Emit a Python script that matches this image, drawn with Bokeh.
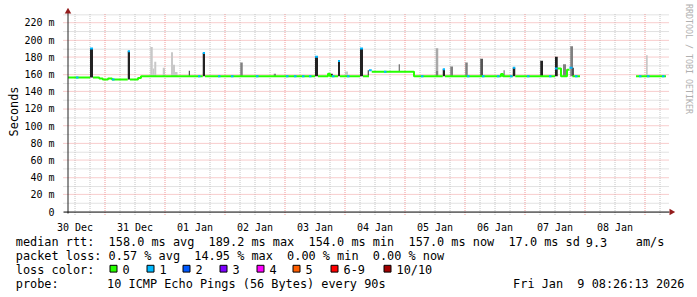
import math
from bokeh.plotting import figure
from bokeh.layouts import column
from bokeh.models import Range1d, FixedTicker, LinearAxis
from bokeh.core.properties import value
from bokeh.embed import file_html
from bokeh.resources import INLINE

# ---------------- data (time = hours since 30 Dec 00:00) ----------------
day_names = ["30 Dec", "31 Dec", "01 Jan", "02 Jan", "03 Jan",
             "04 Jan", "05 Jan", "06 Jan", "07 Jan", "08 Jan"]
y_tick_values = [0, 20, 40, 60, 80, 100, 120, 140, 160, 180, 200, 220]
y_tick_labels = ["0", "20 m", "40 m", "60 m", "80 m", "100 m", "120 m",
                 "140 m", "160 m", "180 m", "200 m", "220 m"]

t_first = 9.2
t_last = 248.4

# median rtt runs (ms): start hour, value (None = no data), lost pings
med_start = [9.2, 18.0, 19.2, 21.7, 23.1, 25.2, 26.8, 33.1, 34.0, 37.2, 38.4,
             63.1, 64.0, 108.0, 109.2, 113.2, 114.0, 117.2, 118.0, 126.0, 127.2,
             129.6, 130.7, 147.6, 159.1, 160.0, 182.4, 183.2, 187.1, 188.1,
             204.0, 205.1, 206.4, 208.8, 209.8, 211.0, 214.0, 236.4]
med_value = [156.7, 190.3, 156.7, 155.5, 154.1, 155.3, 154.1, 187.0, 154.1, 155.9, 157.9,
             185.0, 157.9, 180.7, 157.9, 161.0, 157.9, 175.8, 157.9, 190.3, 157.9,
             165.0, 163.2, 157.9, 166.3, 157.9, 160.5, 157.9, 167.8, 157.9,
             167.0, 167.0, 157.9, 165.5, 168.0, 157.9, None, 157.9]
med_loss = [0, 1, 0, 0, 0, 0, 0, 1, 0, 0, 0,
            1, 0, 1, 0, 0, 0, 1, 0, 1, 0,
            1, 0, 0, 1, 0, 0, 0, 1, 0,
            1, 0, 0, 0, 1, 0, 0, 0]

# single steps with packet loss on the median line
loss_bit_t = [12.4, 26.8, 61.2, 69.2, 74.4, 84.4, 96.4, 99.6, 102.8, 105.6,
              114.8, 120.8, 135.6, 150.4, 168.8, 174.8, 180.8, 186.0, 192.8,
              201.6, 212.0, 237.6, 240.8, 246.8]
loss_bit_n = [1] * 24

# smoke (spread of the pings): start hour, width (h), low, high (ms), darkness 0..4
smoke_t = [18.0, 33.1, 42.1, 43.1, 43.7, 47.1, 50.4, 51.2, 52.0, 57.5, 63.1,
           78.1, 91.5, 108.0, 114.4, 117.2, 120.0, 126.0, 129.1, 141.5, 147.4,
           156.3, 156.3, 159.1, 162.1, 168.1, 174.1, 182.7, 183.4, 187.1, 198.1,
           204.0, 206.2, 207.2, 210.1, 211.0, 240.4]
smoke_w = [1.2, 0.9, 1.0, 0.6, 0.8, 0.9, 0.8, 0.8, 1.0, 0.5, 0.9,
           1.0, 0.9, 1.2, 0.7, 0.8, 1.2, 1.2, 0.4, 0.4, 0.4,
           1.0, 1.0, 0.9, 1.1, 1.0, 1.1, 0.5, 0.5, 1.0, 1.1,
           1.1, 0.4, 1.2, 1.1, 0.5, 0.7]
smoke_lo = [156.7, 154.1, 157.9, 157.9, 157.9, 157.9, 157.9, 157.9, 157.9, 157.9, 157.9,
            157.9, 157.9, 157.9, 157.9, 157.9, 157.9, 157.9, 157.9, 163.2, 157.9,
            157.9, 164.0, 157.9, 157.9, 157.9, 157.9, 157.9, 157.9, 157.9, 157.9,
            157.9, 157.9, 157.9, 157.9, 157.9, 157.9]
smoke_hi = [190.3, 187.0, 192.0, 167.0, 175.0, 168.0, 186.0, 171.5, 163.0, 164.4, 185.0,
            174.0, 161.0, 180.7, 161.0, 175.8, 163.6, 190.3, 165.0, 172.0, 163.2,
            164.0, 190.6, 166.3, 169.3, 173.9, 178.5, 161.0, 165.0, 167.8, 176.2,
            180.7, 167.0, 172.0, 193.0, 168.0, 182.6]
smoke_level = [4, 4, 0, 0, 0, 0, 0, 0, 0, 3, 4,
               2, 2, 4, 4, 4, 0, 4, 4, 3, 4,
               2, 1, 4, 2, 2, 3, 4, 2, 4, 4,
               4, 4, 2, 2, 4, 0]

loss_names = ["0", "1", "2", "3", "4", "5", "6-9", "10/10"]

rtt_text = "median rtt:  158.0 ms avg  189.2 ms max  154.0 ms min  157.0 ms now  17.0 ms sd"
amps_value = "9.3"
amps_unit = "am/s"
loss_text = "packet loss: 0.57 % avg  14.95 % max  0.00 % min  0.00 % now"
probe_text = "10 ICMP Echo Pings (56 Bytes) every 90s"
stamp_text = "Fri Jan  9 08:26:13 2026"
unit_text = "Seconds"
watermark_text = "RRDTOOL / TOBI OETIKER"

# ---------------- styles ----------------
LOSS_COLORS = ["#26ff00", "#00b8ff", "#0059ff", "#7e00ff", "#ff00ff",
               "#ff5e00", "#ff0000", "#a10000"]
SMOKE_COLORS = ["#c8c8c8", "#a8a8a8", "#808080", "#555555", "#222222"]
MONO = "DejaVu Sans Mono"
ARROW = "#941c1c"
MGRID = "#f09a9a"
GRID = "#c4c4c4"
FS = "11.87px"
NBSP = "\u00a0"


def keep_spaces(s):
    return s.replace(" ", NBSP)


# screen mapping helpers (layout only)
PX0, PPH = 67.5, 2.5          # screen x of first column centre, px per hour
PY0, KPY = 215.5, 0.876       # screen y of 0 ms, px per ms


def hx(px):
    return t_first + (px - PX0) / PPH


def vy(py):
    return (PY0 - py) / KPY


def snap_v(v):
    s = math.floor(PY0 - v * KPY) + 0.5
    return (PY0 - s) / KPY


p = figure(width=697, height=235,
           x_range=Range1d(hx(62), hx(676)), y_range=Range1d(vy(219), vy(7)),
           output_backend="svg", toolbar_location=None,
           min_border_left=62, min_border_right=21, min_border_top=7, min_border_bottom=16)
p.outline_line_color = None
p.grid.visible = False
p.frame_align = False

# grid
minor_v = [h for h in range(12, 252, 6) if h % 24 != 0]
major_v = [h for h in range(24, 252, 24)]
minor_h = [snap_v(v) for v in range(10, 240, 20)]
major_h = [snap_v(v) for v in range(20, 240, 20)]
gy0, gy1 = vy(218.5), vy(13)
gx0, gx1 = hx(63), hx(669)
p.segment(x0=minor_v, x1=minor_v, y0=[gy0] * len(minor_v), y1=[gy1] * len(minor_v),
          line_color=GRID, line_width=1, line_dash="1 1")
p.segment(x0=[gx0] * len(minor_h), x1=[gx1] * len(minor_h), y0=minor_h, y1=minor_h,
          line_color=GRID, line_width=1, line_dash="1 1")
p.segment(x0=major_v, x1=major_v, y0=[gy0] * len(major_v), y1=[gy1] * len(major_v),
          line_color=MGRID, line_width=1, line_dash="1 1")
p.segment(x0=[gx0] * len(major_h), x1=[gx1] * len(major_h), y0=major_h, y1=major_h,
          line_color=MGRID, line_width=1, line_dash="1 1")

# smoke
p.quad(left=smoke_t, right=[t + w for t, w in zip(smoke_t, smoke_w)],
       bottom=smoke_lo, top=smoke_hi,
       fill_color=[SMOKE_COLORS[k] for k in smoke_level], line_color=None)

# median line, one polyline per run of equal loss colour
med_end = med_start[1:] + [t_last]
chains = []
prev_end = None
cur = None
for s, e, v, l in zip(med_start, med_end, med_value, med_loss):
    if v is None:
        cur = None
        prev_end = None
        continue
    if cur is not None and cur[2] == l and prev_end == s:
        cur[0].extend([s, e])
        cur[1].extend([v, v])
    else:
        cur = [[s, e], [v, v], l]
        chains.append(cur)
    prev_end = e
p.multi_line(xs=[c[0] for c in chains], ys=[c[1] for c in chains],
             line_color=[LOSS_COLORS[c[2]] for c in chains], line_width=2)


def median_at(t):
    val = None
    for s, v in zip(med_start, med_value):
        if s <= t:
            val = v
    return val


bits_v = [median_at(t) for t in loss_bit_t]
p.segment(x0=loss_bit_t, x1=[t + 1.0 for t in loss_bit_t], y0=bits_v, y1=bits_v,
          line_color=[LOSS_COLORS[n] for n in loss_bit_n], line_width=2)

# axis lines and arrows
p.segment(x0=[t_first], x1=[t_first], y0=[vy(217)], y1=[vy(12.5)], line_color="#222222", line_width=1)
p.segment(x0=[hx(63)], x1=[hx(669)], y0=[0], y1=[0], line_color="black", line_width=1)
p.scatter(x=[t_first], y=[vy(11.1)], marker="triangle", size=6.5,
          fill_color=ARROW, line_color=None)
p.scatter(x=[hx(670.9)], y=[0], marker="triangle", size=6.5, angle=-math.pi / 2,
          fill_color=ARROW, line_color=None)

# axes (labels only)
for ax in (p.xaxis, p.yaxis):
    ax.axis_line_color = None
    ax.major_tick_line_color = None
    ax.minor_tick_line_color = None
    ax.major_label_text_font = MONO
    ax.major_label_text_font_size = "10px"
    ax.major_label_text_color = "black"
noons = [12 + 24 * i for i in range(len(day_names))]
p.xaxis.ticker = FixedTicker(ticks=noons)
p.xaxis.major_label_overrides = {t: n for t, n in zip(noons, day_names)}
p.xaxis.major_label_standoff = 0
p.yaxis.ticker = FixedTicker(ticks=y_tick_values)
p.yaxis.major_label_overrides = {v: s for v, s in zip(y_tick_values, y_tick_labels)}
p.yaxis.major_label_standoff = 2
p.yaxis.axis_label = unit_text
p.yaxis.axis_label_text_font = MONO
p.yaxis.axis_label_text_font_size = FS
p.yaxis.axis_label_text_font_style = "normal"
p.yaxis.axis_label_text_color = "black"
p.yaxis.axis_label_standoff = 0

# watermark: right-hand axis title, padded so it sits in the upper half
wm = LinearAxis(ticker=FixedTicker(ticks=[]),
                axis_line_color=None, major_tick_line_color=None, minor_tick_line_color=None,
                axis_label=watermark_text + NBSP * 21, axis_label_text_font=MONO,
                axis_label_text_font_size="8.3px", axis_label_text_font_style="normal",
                axis_label_text_color="#b0b0b0", axis_label_standoff=7)
p.add_layout(wm, "right")

# ---------------- legend block ----------------
q = figure(width=697, height=62, x_range=Range1d(0, 697), y_range=Range1d(297, 235),
           output_backend="svg", toolbar_location=None,
           x_axis_type=None, y_axis_type=None,
           min_border=0, min_border_left=0, min_border_right=0,
           min_border_top=0, min_border_bottom=0)
q.outline_line_color = None
q.grid.visible = False
q.frame_align = False

LX = 15.3
tx = [LX, 585.3, 635.3, LX, LX, LX, 106.6, 512.6]
ty = [241.5, 241.5, 241.5, 255.5, 269.2, 283.0, 283.0, 283.0]
tt = [rtt_text, amps_value, amps_unit, loss_text, "loss color:", "probe:", probe_text, stamp_text]
q.text(x=tx, y=ty, text=[keep_spaces(s) for s in tt], text_font=value(MONO),
       text_font_size=value(FS), text_baseline="alphabetic", text_align="left",
       text_color="black")

box_left = [109, 146, 182, 219, 256, 292, 330, 383]
q.quad(left=[b + 0.5 for b in box_left], right=[b + 7.5 for b in box_left],
       top=[264.8] * 8, bottom=[271.6] * 8,
       fill_color=LOSS_COLORS, line_color="black", line_width=1)
q.text(x=[b + 13 for b in box_left], y=[269.2] * 8, text=loss_names,
       text_font=value(MONO), text_font_size=value(FS),
       text_baseline="alphabetic", text_align="left", text_color="black")

layout = column(p, q, spacing=0)
open("out.html", "w").write(file_html(layout, INLINE))
